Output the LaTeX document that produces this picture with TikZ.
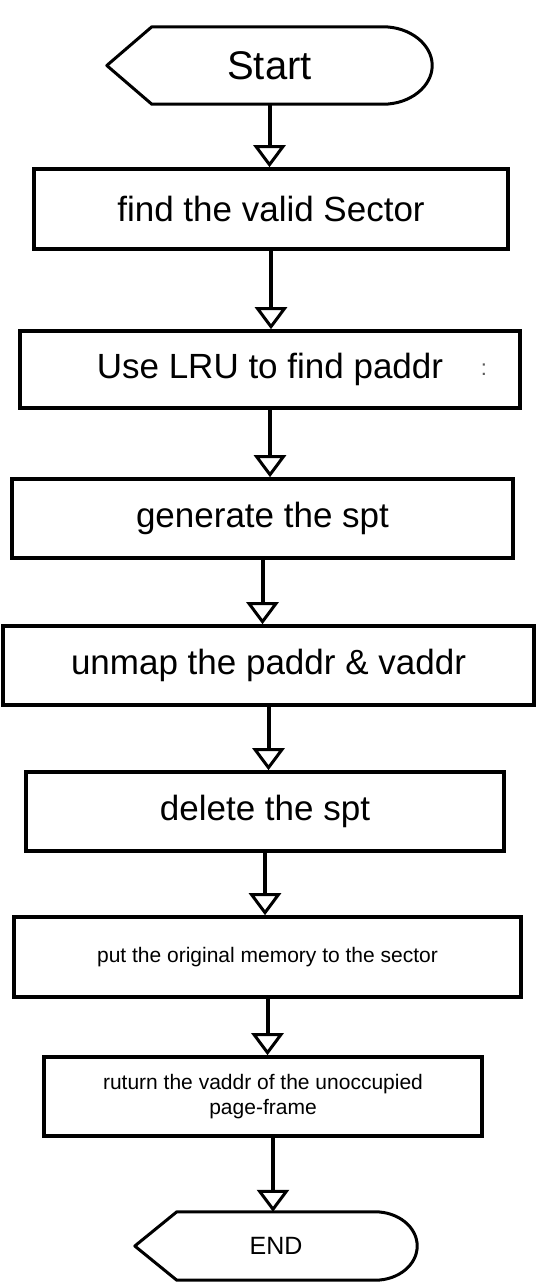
\documentclass[tikz,border=0pt]{standalone}
\usepackage{fontspec}
\setmainfont{Liberation Sans}
\usetikzlibrary{arrows.meta}

\begin{document}
\begin{tikzpicture}[
    x=1pt, y=-1pt,
    stepbox/.style={rectangle, draw, line width=3.6pt, fill=white, inner sep=0pt,
        font=\fontsize{35}{42}\selectfont},
    smallbox/.style={stepbox, align=center, font=\fontsize{21}{25}\selectfont},
    terminal/.style={inner sep=0pt},
    outline/.style={line width=3pt, line join=round},
    flow/.style={line width=4pt, -{Triangle[open, length=22pt, width=32pt, line width=3pt]}}
]

\useasboundingbox (0,0) rectangle (540,1286);

% --- Start ---
\node[terminal, minimum width=325pt, minimum height=77pt,
      font=\fontsize{40}{48}\selectfont] (start) at (269.5,65.5) {Start};
\draw[outline] ([xshift=45pt]start.north west) -- ([xshift=-49pt]start.north east)
    .. controls +(27pt,0) and +(0,21pt) .. (start.east)
    .. controls +(0,-21pt) and +(27pt,0) .. ([xshift=-49pt]start.south east)
    -- ([xshift=45pt]start.south west) -- (start.west) -- cycle;

% --- Steps ---
\node[stepbox, minimum width=474pt, minimum height=80pt] (sector) at (271,209) {find the valid Sector};
\node[stepbox, minimum width=500pt, minimum height=77pt] (lru) at (270,369.5) {Use LRU to find paddr};
\node[text=black!65, font=\fontsize{22}{22}\selectfont] (lrumark) at (484,370) {:};
\node[stepbox, minimum width=501pt, minimum height=79pt] (spt) at (262.5,518.5) {generate the spt};
\node[stepbox, minimum width=531pt, minimum height=79pt] (unmap) at (268.5,665.5) {unmap the paddr \& vaddr};
\node[stepbox, minimum width=478pt, minimum height=79pt] (delspt) at (265,811.5) {delete the spt};
\node[smallbox, minimum width=507pt, minimum height=80pt] (restore) at (267.5,957) {put the original memory to the sector};
\node[smallbox, minimum width=438pt, minimum height=79pt] (vaddr) at (263,1096.5) {ruturn the vaddr of the unoccupied\\page-frame};

% --- END ---
\node[terminal, minimum width=282pt, minimum height=68pt,
      font=\fontsize{25}{30}\selectfont] (stop) at (276,1246) {END};
\draw[outline] ([xshift=42pt]stop.north west) -- ([xshift=-42pt]stop.north east)
    .. controls +(23pt,0) and +(0,19pt) .. (stop.east)
    .. controls +(0,-19pt) and +(23pt,0) .. ([xshift=-42pt]stop.south east)
    -- ([xshift=42pt]stop.south west) -- (stop.west) -- cycle;

% --- Connectors ---
\foreach \a/\b in {start/sector, sector/lru, lru/spt, spt/unmap, unmap/delspt,
                   delspt/restore, restore/vaddr}
    \draw[flow] (\a.south) -- (\a.south |- \b.north);
\draw[flow] ([xshift=10pt]vaddr.south) -- ([xshift=10pt]vaddr.south |- stop.north);

\end{tikzpicture}
\end{document}
